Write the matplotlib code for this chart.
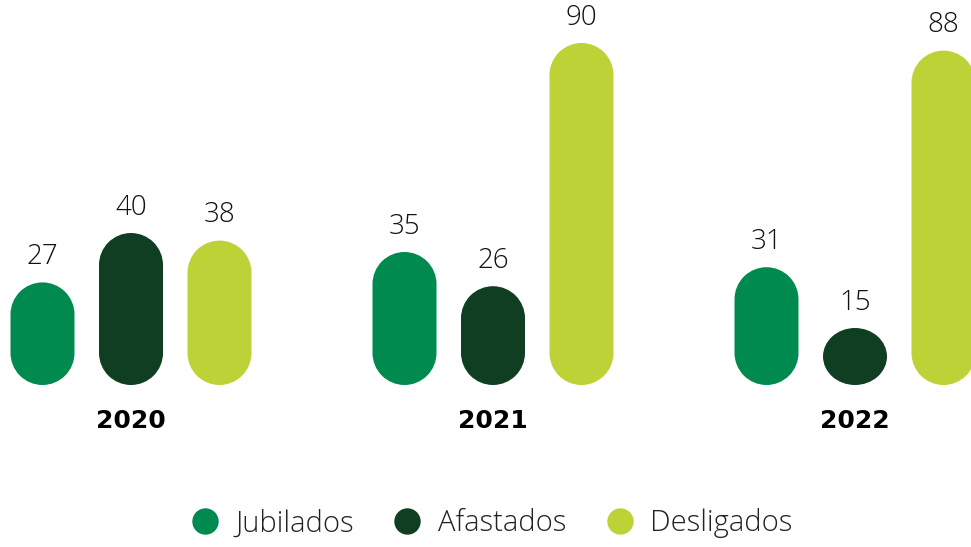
import matplotlib
matplotlib.use("Agg")
import numpy as np
import matplotlib.pyplot as plt
from matplotlib.patches import PathPatch
from matplotlib.path import Path
from matplotlib.lines import Line2D

years = ["2020", "2021", "2022"]
series = ["Jubilados", "Afastados", "Desligados"]
jubilados = [27, 35, 31]
afastados = [40, 26, 15]
desligados = [38, 90, 88]
colors = ["#008A50", "#103E22", "#BDD236"]

plt.rcParams['font.family'] = ['Open Sans', 'DejaVu Sans']

W, H = 971, 547
fig = plt.figure(figsize=(W / 100, H / 100), dpi=100)
ax = fig.add_axes([0, 0, 1, 1])
ax.axis("off")

# x in pixels, y in value units
px_per_unit = 3.8
base_px = 162
ax.set_xlim(0, W)
ax.set_ylim(-base_px / px_per_unit, (H - base_px) / px_per_unit)

bar_w = 64
group_gap = 362
bar_gap = 88.5
first_center = 131


def pill(xc, v, color):
    # bar from 0 to v with semicircular ends
    rx = bar_w / 2
    ry = min(bar_w / 2, v * px_per_unit / 2) / px_per_unit
    bot = Path.arc(180, 360)
    top = Path.arc(0, 180)
    vb = bot.vertices * [rx, ry] + [xc, ry]
    vt = top.vertices * [rx, ry] + [xc, v - ry]
    verts = np.vstack([vb, vt, vb[:1]])
    codes = np.concatenate([bot.codes, top.codes, [Path.CLOSEPOLY]])
    codes[len(bot.codes)] = Path.LINETO
    ax.add_patch(PathPatch(Path(verts, codes), facecolor=color,
                           edgecolor="none"))


values = [jubilados, afastados, desligados]
for g, year in enumerate(years):
    gc = first_center + g * group_gap
    for s, name in enumerate(series):
        v = values[s][g]
        xc = gc + (s - 1) * bar_gap
        pill(xc, v, colors[s])
        ax.annotate(str(v), (xc, v), xytext=(0, 8), textcoords="offset points",
                    ha="center", va="bottom", fontsize=20, fontweight="light",
                    color="#111111")
    ax.text(gc, 0.23, year, transform=ax.get_xaxis_transform(),
            ha="center", va="center", fontsize=18, fontweight="bold",
            family="DejaVu Sans", color="black")

handles = [Line2D([], [], linestyle="none", marker="o", markersize=19,
                  markerfacecolor=c, markeredgecolor="none") for c in colors]
fig.legend(handles, series, loc="center", bbox_to_anchor=(0.506, 0.043),
           ncol=3, frameon=False, handlelength=1.0, handletextpad=0.55,
           columnspacing=1.33, prop={"size": 21, "weight": "light"},
           labelcolor="#222222")

fig.savefig("out.png", dpi=100)
